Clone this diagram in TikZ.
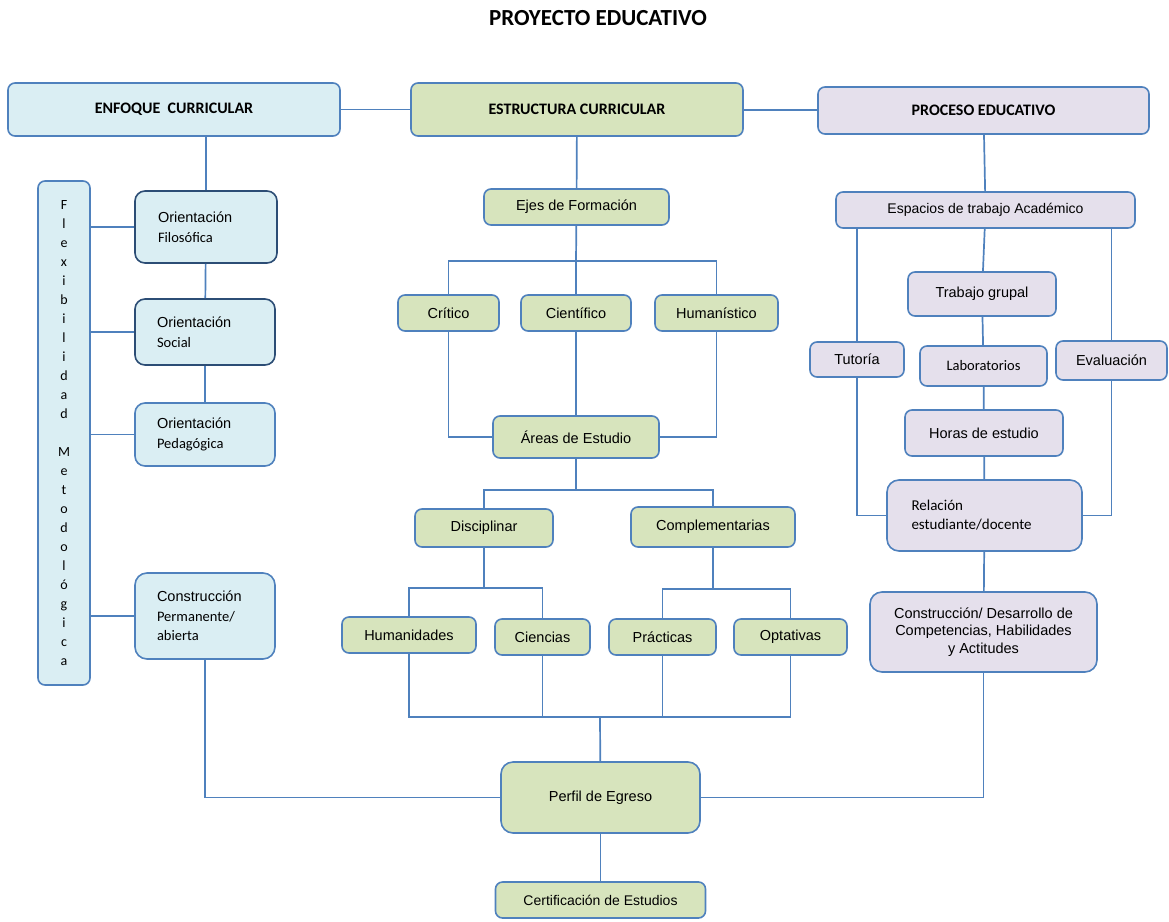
\documentclass[tikz,border=0pt]{standalone}
\usepackage{fontspec}
\setmainfont{Liberation Sans}
\newfontfamily\calibri{Carlito}
\usepackage{tikz}
\definecolor{borde}{HTML}{4F81BD}
\definecolor{bordeosc}{HTML}{2C4D75}
\definecolor{azul}{HTML}{DAEEF3}
\definecolor{verde}{HTML}{D7E4BD}
\definecolor{lila}{HTML}{E5E0EC}
\newcommand{\cali}[1]{{\calibri #1}}

\begin{document}
\begin{tikzpicture}[x=1pt, y=-1pt, node distance=100pt,
    block/.style={rectangle, rounded corners=7pt, draw=borde, line width=1.6pt, inner sep=2pt, align=center, font=\fontsize{14.5}{18}\selectfont},
    dims/.style 2 args={minimum width=#1pt, minimum height=#2pt},
    bluebox/.style={block, fill=azul},
    greenbox/.style={block, fill=verde},
    lilabox/.style={block, fill=lila},
    head/.style={font=\calibri\bfseries\fontsize{16}{18}\selectfont},
    link/.style={draw=borde, line width=1.7pt}]
    \useasboundingbox (0,0) rectangle (1169,921);
    \node[font=\calibri\bfseries\fontsize{23}{25}\selectfont] (titulo) at (598,18) {PROYECTO EDUCATIVO};

    \node[bluebox, head, dims={332}{53}] (enf) at (174,109.5) {ENFOQUE~~CURRICULAR};
    \node[greenbox, head, dims={332}{53}] (est) at (577,109.5) {ESTRUCTURA CURRICULAR};
    \node[lilabox, head, dims={331}{47}] (pro) at (983.5,110.5) {PROCESO EDUCATIVO};

    \node[bluebox, dims={52}{504}, font=\calibri\fontsize{14}{19}\selectfont] (flex) at (64,433)
        {F\\l\\e\\x\\i\\b\\i\\l\\i\\d\\a\\d\\[19pt]M\\e\\t\\o\\d\\o\\l\\ó\\g\\i\\c\\a};
    \node[bluebox, draw=bordeosc, dims={142}{72}, text width=96pt, align=left, font=\fontsize{14.5}{20}\selectfont, rounded corners=10pt] (fil) at (206,227) {Orientación\\\cali{Filosófica}};
    \node[bluebox, draw=bordeosc, dims={140}{66}, text width=96pt, align=left, font=\fontsize{14.5}{20}\selectfont, rounded corners=10pt] (soc) at (205,332) {Orientación\\\cali{Social}};
    \node[bluebox, dims={140}{63}, text width=96pt, align=left, font=\fontsize{14.5}{20}\selectfont, rounded corners=10pt] (ped) at (205,434.5) {Orientación\\\cali{Pedagógica}};
    \node[bluebox, dims={140}{86}, text width=96pt, align=left, font=\fontsize{14.5}{19.5}\selectfont, rounded corners=12pt] (con) at (205,616) {Construcción\\\cali{Permanente/}\\\cali{abierta}};

    \node[greenbox, dims={185}{36}] (ejes) at (576.5,207) {Ejes de Formación};
    \node[greenbox, dims={101}{36}] (crit) at (448.5,313) {Crítico};
    \node[greenbox, dims={110}{36}] (cien) at (576,313) {Científico};
    \node[greenbox, dims={123}{36}] (hum) at (716.5,313) {Humanístico};
    \node[greenbox, dims={166}{42}] (areas) at (576,437) {Áreas de Estudio};
    \node[greenbox, dims={138}{38}] (disc) at (484,528) {Disciplinar};
    \node[greenbox, dims={164}{40}] (comp) at (713,527) {Complementarias};
    \node[greenbox, dims={134}{36}] (huma) at (409,635) {Humanidades};
    \node[greenbox, dims={95}{36}] (cienc) at (542.5,637) {Ciencias};
    \node[greenbox, dims={107}{36}] (prac) at (662.5,637) {Prácticas};
    \node[greenbox, dims={113}{36}] (opt) at (790.5,637) {Optativas};
    \node[greenbox, dims={199}{71}, rounded corners=12pt] (perfil) at (600.5,797.5) {Perfil de Egreso};
    \node[greenbox, dims={210}{36}, below of=perfil, node distance=102.5pt, font=\fontsize{14}{18}\selectfont] (cert) {Certificación de Estudios};

    \node[lilabox, dims={299}{36}, font=\fontsize{14}{18}\selectfont] (esp) at (985.5,210) {Espacios de trabajo Académico};
    \node[lilabox, dims={148}{44}] (trab) at (982,294) {Trabajo grupal};
    \node[lilabox, dims={94}{35}] (tut) at (857,359.5) {Tutoría};
    \node[lilabox, dims={127}{40}, font=\calibri\fontsize{14.5}{18}\selectfont] (lab) at (983.5,366) {Laboratorios};
    \node[lilabox, dims={111}{39}] (eva) at (1111.5,360.5) {Evaluación};
    \node[lilabox, dims={158}{46}] (horas) at (984,433) {Horas de estudio};
    \node[lilabox, dims={195}{71}, text width=146pt, align=left, font=\calibri\fontsize{15}{19}\selectfont, rounded corners=12pt] (rel) at (984.5,515.5) {Relación\\estudiante/docente};
    \node[lilabox, dims={227}{80}, font=\fontsize{14.5}{17.5}\selectfont, rounded corners=12pt] (desa) at (983.5,632) {Construcción/ Desarrollo de\\Competencias, Habilidades\\y Actitudes};

    \coordinate (ejesbus) at (576,261);
    \coordinate (areasbus) at (576,490);
    \coordinate (discbus) at (484,588);
    \coordinate (compbus) at (713,589);
    \coordinate (perfilbus) at (600,717);

    \draw[link] (enf) -- (est);
    \draw[link] (est) -- (pro);
    \draw[link] (enf.south -| fil) -- (fil);
    \draw[link] (fil) -- (soc);
    \draw[link] (soc) -- (ped);
    \draw[link] (flex.east |- fil) -- (fil);
    \draw[link] (flex.east |- soc) -- (soc);
    \draw[link] (flex.east |- ped) -- (ped);
    \draw[link] (flex.east |- con) -- (con);
    \draw[link] (con) |- (perfil);

    \draw[link] (est) -- (ejes);
    \draw[link] (ejes) -- (ejesbus);
    \draw[link] (crit) |- (ejesbus) -| (hum);
    \draw[link] (ejesbus) -- (cien);
    \draw[link] (crit) |- (areas);
    \draw[link] (cien) -- (areas);
    \draw[link] (hum) |- (areas);
    \draw[link] (areas) -- (areasbus);
    \draw[link] (disc) |- (areasbus) -| (comp);
    \draw[link] (disc) -- (discbus);
    \draw[link] (huma) |- (discbus) -| (cienc);
    \draw[link] (comp) -- (compbus);
    \draw[link] (prac) |- (compbus) -| (opt);
    \draw[link] (huma) |- (perfilbus) -| (opt);
    \draw[link] (cienc) -- (cienc |- perfilbus);
    \draw[link] (prac) -- (prac |- perfilbus);
    \draw[link] (perfilbus) -- (perfil);
    \draw[link] (perfil) -- (cert);

    \draw[link] (pro) -- (esp);
    \draw[link] (esp.south -| tut) -- (tut);
    \draw[link] (esp) -- (trab);
    \draw[link] (esp.south -| eva) -- (eva);
    \draw[link] (trab) -- (lab);
    \draw[link] (lab) -- (horas);
    \draw[link] (horas) -- (rel);
    \draw[link] (tut) |- (rel);
    \draw[link] (eva) |- (rel);
    \draw[link] (rel) -- (desa);
    \draw[link] (desa) |- (perfil);
\end{tikzpicture}
\end{document}
